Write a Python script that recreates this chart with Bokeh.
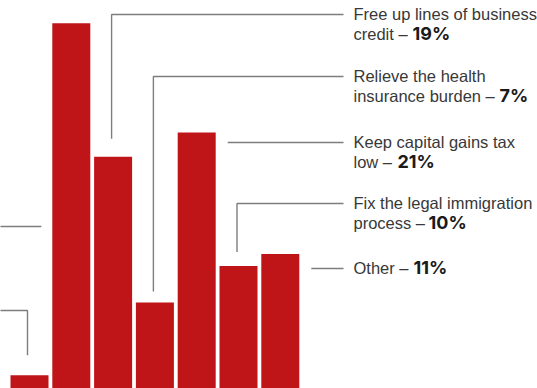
from bokeh.plotting import figure
from bokeh.models import Range1d
from bokeh.embed import file_html
from bokeh.resources import INLINE
from bokeh.core.properties import value

# ---- data ----
bar_index = [0, 1, 2, 3, 4, 5, 6]
values = [1, 30, 19, 7, 21, 10, 11]
label_line1 = ["Free up lines of business", "Relieve the health",
               "Keep capital gains tax", "Fix the legal immigration", "Other \u2013"]
label_line2 = ["credit \u2013", "insurance burden \u2013", "low \u2013", "process \u2013", ""]
pct_labels = ["19%", "7%", "21%", "10%", "11%"]
labelled_bars = [2, 3, 4, 5, 6]

# ---- layout (reference pixel space -> data space) ----
X0, DX = 29.0, 41.8          # bar centre of first bar, bar pitch (px)
Y0, DY = 387.0, 12.14        # baseline (px), px per percent
OFF = 0

def xd(px):
    return (px - X0) / DX

def yd(py):
    return (Y0 - py) / DY

W, H = 537, 388
p = figure(width=W, height=H, output_backend="svg", toolbar_location=None,
           x_range=Range1d(xd(OFF), xd(OFF + W)), y_range=Range1d(yd(OFF + H), yd(OFF)),
           min_border=0, outline_line_color=None, background_fill_color="white",
           border_fill_color="white")
p.axis.visible = False
p.xgrid.visible = False
p.ygrid.visible = False

RED = "#bf1519"
GREY = "#7d7d7d"
TXT = "#383838"
FONT = "Liberation Sans"
FS = "16.5px"

p.vbar(x=bar_index, top=values, bottom=yd(OFF + H + 5), width=38 / DX,
       fill_color=RED, line_color=None)

# label anchor rows (px) and connectors
row_y = [14, 76, 142, 203, 268]
line_end = 343
text_x = 353
bold_x = [412, 499, 397, 428, 413]
elbow_gap = {2: 18, 3: 11, 5: 14}   # px gap above bar top for vertical connectors

xs, ys = [], []
for k, b in enumerate(labelled_bars):
    yy = yd(row_y[k])
    if b in elbow_gap:
        cx = b - 1.5 / DX
        ybot = values[b] + elbow_gap[b] / DY
        xs.append([cx, cx, xd(line_end)])
        ys.append([ybot, yy, yy])
    else:
        xs.append([b + (38 / 2 + 12) / DX, xd(line_end)])
        ys.append([yy, yy])

# connectors to labels off the left edge (bars 0 and 1)
xs.append([xd(-10), 1 - (38 / 2 + 11) / DX])
ys.append([yd(226), yd(226)])
xs.append([xd(-10), 0 - 2 / DX, 0 - 2 / DX])
ys.append([yd(310), yd(310), values[0] + 20 / DY])

p.multi_line(xs=xs, ys=ys, line_color=GREY, line_width=1.4)

# label texts
L1, L2 = -1.0, 19.0
t1x = [xd(text_x)] * 5
t1y = [yd(r + L1) for r in row_y]
p.text(x=t1x, y=t1y, text=label_line1, text_font=value(FONT), text_font_size=FS,
       text_color=TXT, text_baseline="alphabetic", text_align="left")
t2y = [yd(r + L2) for r in row_y]
p.text(x=t1x[:4], y=t2y[:4], text=label_line2[:4], text_font=value(FONT),
       text_font_size=FS, text_color=TXT, text_baseline="alphabetic", text_align="left")

by = [yd(r + L2) for r in row_y[:4]] + [yd(row_y[4] + L1)]
p.text(x=[xd(b) for b in bold_x], y=by, text=pct_labels, text_font=value("Inter"),
       text_font_style="bold", text_font_size="18px", text_color="#1a1a1a",
       text_baseline="alphabetic", text_align="left")

open("out.html", "w").write(file_html(p, INLINE))
